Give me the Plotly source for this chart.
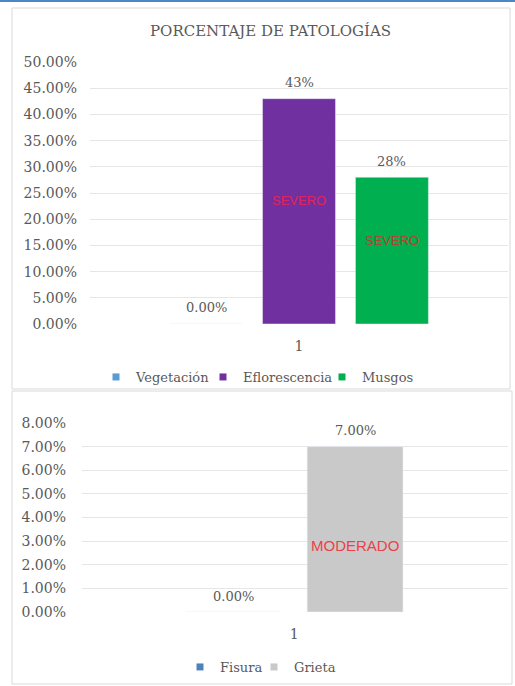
import plotly.graph_objects as go

# Top chart: percentage of pathologies
top_categories = ["1"]
top_series = ["Vegetación", "Eflorescencia", "Musgos"]
top_values = [0.0, 43.0, 28.0]
top_label_formats = ["{:.2f}%", "{:.0f}%", "{:.0f}%"]
top_colors = ["#5B9BD5", "#7030A0", "#00B050"]
top_ticks = [0, 5, 10, 15, 20, 25, 30, 35, 40, 45, 50]
top_ticktext = ["0.00%", "5.00%", "10.00%", "15.00%", "20.00%", "25.00%",
                "30.00%", "35.00%", "40.00%", "45.00%", "50.00%"]
top_severity = [None, "SEVERO", "SEVERO"]
top_severity_level = [None, 23.5, 16.0]
top_severity_colors = [None, "#E0245A", "#B0452F"]

# Bottom chart
bottom_categories = ["1"]
bottom_series = ["Fisura", "Grieta"]
bottom_values = [0.0, 7.0]
bottom_label_formats = ["{:.2f}%", "{:.2f}%"]
bottom_colors = ["#4F81BD", "#C9C9C9"]
bottom_ticks = [0, 1, 2, 3, 4, 5, 6, 7, 8]
bottom_ticktext = ["0.00%", "1.00%", "2.00%", "3.00%", "4.00%",
                   "5.00%", "6.00%", "7.00%", "8.00%"]
bottom_severity = [None, "MODERADO"]
bottom_severity_level = [None, 2.8]
bottom_severity_colors = [None, "#EE3F4A"]

W, H = 515, 686
SERIF = "DejaVu Serif"
GREY_TXT = "#595959"
BARGAP = 0.333
BARGROUPGAP = 0.215


def py(px):
    return 1 - px / H


def px_x(px):
    return px / W


def slot_centers(n):
    # centre of each grouped bar relative to its category, in category units
    slot = (1 - BARGAP) / n
    return [(i - (n - 1) / 2) * slot for i in range(n)]


fig = go.Figure()

# one single-entry legend per series so each swatch can be placed freely
top_legend_ids = ["legend", "legend2", "legend3"]
top_legend_x = [96, 203, 322]
bottom_legend_ids = ["legend4", "legend5"]
bottom_legend_x = [180, 254]

for name, val, col, lg in zip(top_series, top_values, top_colors, top_legend_ids):
    fig.add_trace(go.Bar(
        x=top_categories, y=[val], name=name, marker_color=col,
        xaxis="x", yaxis="y", offsetgroup=name,
        legendgroup=name, showlegend=False,
    ))
    fig.add_trace(go.Scatter(
        x=[None], y=[None], mode="markers", name=name,
        marker=dict(symbol="square", size=7, color=col),
        xaxis="x", yaxis="y", legend=lg, legendgroup=name,
    ))

for name, val, col, lg in zip(bottom_series, bottom_values, bottom_colors,
                              bottom_legend_ids):
    fig.add_trace(go.Bar(
        x=bottom_categories, y=[val], name=name, marker_color=col,
        xaxis="x2", yaxis="y2", offsetgroup=name,
        legendgroup=name, showlegend=False,
    ))
    fig.add_trace(go.Scatter(
        x=[None], y=[None], mode="markers", name=name,
        marker=dict(symbol="square", size=7, color=col),
        xaxis="x2", yaxis="y2", legend=lg, legendgroup=name,
    ))

axis_font = dict(family=SERIF, size=14, color=GREY_TXT)


def legend_box(xpx, ypx):
    return dict(orientation="h", x=px_x(xpx), y=py(ypx), xanchor="left", yanchor="middle",
                font=dict(family=SERIF, size=13, color=GREY_TXT),
                itemwidth=30, bgcolor="rgba(0,0,0,0)")


legends = {}
for lg, xp in zip(top_legend_ids, top_legend_x):
    legends[lg] = legend_box(xp, 377)
for lg, xp in zip(bottom_legend_ids, bottom_legend_x):
    legends[lg] = legend_box(xp, 667)

fig.update_layout(
    width=W, height=H,
    margin=dict(l=0, r=0, t=0, b=0, pad=0, autoexpand=False),
    paper_bgcolor="white", plot_bgcolor="white",
    font=dict(family=SERIF, size=13, color=GREY_TXT),
    barmode="group", bargap=BARGAP, bargroupgap=BARGROUPGAP,
    showlegend=True,
    xaxis=dict(domain=[px_x(90), px_x(508)], anchor="y", range=[-0.5, 0.5],
               showgrid=False, zeroline=False, showline=False, ticks="",
               tickfont=dict(family=SERIF, size=14, color=GREY_TXT),
               ticklabelstandoff=12),
    yaxis=dict(domain=[py(324), py(62)], anchor="x", range=[0, 50],
               tickmode="array", tickvals=top_ticks, ticktext=top_ticktext,
               showgrid=True, gridcolor="#E6E6E6", gridwidth=1,
               zeroline=False, showline=False, ticks="",
               tickfont=axis_font, ticklabelstandoff=12),
    xaxis2=dict(domain=[px_x(82), px_x(508)], anchor="y2", range=[-0.58, 0.585],
                showgrid=False, zeroline=False, showline=False, ticks="",
                tickfont=dict(family=SERIF, size=14, color=GREY_TXT),
                ticklabelstandoff=12),
    yaxis2=dict(domain=[py(612), py(423)], anchor="x2", range=[0, 8],
                tickmode="array", tickvals=bottom_ticks, ticktext=bottom_ticktext,
                showgrid=True, gridcolor="#E6E6E6", gridwidth=1,
                zeroline=False, showline=False, ticks="",
                tickfont=axis_font, ticklabelstandoff=15),
    **legends,
)

# Chart title
fig.add_annotation(text="PORCENTAJE DE PATOLOGÍAS", xref="paper", yref="paper",
                   x=px_x(270), y=py(31), xanchor="center", yanchor="middle",
                   showarrow=False,
                   font=dict(family=SERIF, size=15, color=GREY_TXT))

# Value labels above each bar and severity labels inside them
for axes, values, fmts, sev, sev_y, sev_col in [
    (("x", "y"), top_values, top_label_formats, top_severity,
     top_severity_level, top_severity_colors),
    (("x2", "y2"), bottom_values, bottom_label_formats, bottom_severity,
     bottom_severity_level, bottom_severity_colors),
]:
    for off, val, fmt, s, sy, sc in zip(slot_centers(len(values)), values, fmts,
                                        sev, sev_y, sev_col):
        fig.add_annotation(text=fmt.format(val), xref=axes[0], yref=axes[1],
                           x=off, y=val, yshift=16, showarrow=False,
                           xanchor="center", yanchor="middle",
                           font=dict(family=SERIF, size=13, color=GREY_TXT))
        if s:
            fig.add_annotation(text=s, xref=axes[0], yref=axes[1], x=off, y=sy,
                               showarrow=False, xanchor="center", yanchor="middle",
                               font=dict(family="Liberation Sans",
                                         size=15 if len(s) > 6 else 13, color=sc))

# Panel frames and top accent line
fig.add_shape(type="rect", xref="paper", yref="paper",
              x0=px_x(12), x1=px_x(510), y0=py(389), y1=py(8),
              line=dict(color="#D9D9D9", width=1), fillcolor="rgba(0,0,0,0)", layer="below")
fig.add_shape(type="rect", xref="paper", yref="paper",
              x0=px_x(12), x1=px_x(512), y0=py(684), y1=py(391),
              line=dict(color="#D9D9D9", width=1), fillcolor="rgba(0,0,0,0)", layer="below")
fig.add_shape(type="line", xref="paper", yref="paper",
              x0=0, x1=1, y0=py(1), y1=py(1),
              line=dict(color="#4A86C8", width=2))

fig.write_html("out.html")
